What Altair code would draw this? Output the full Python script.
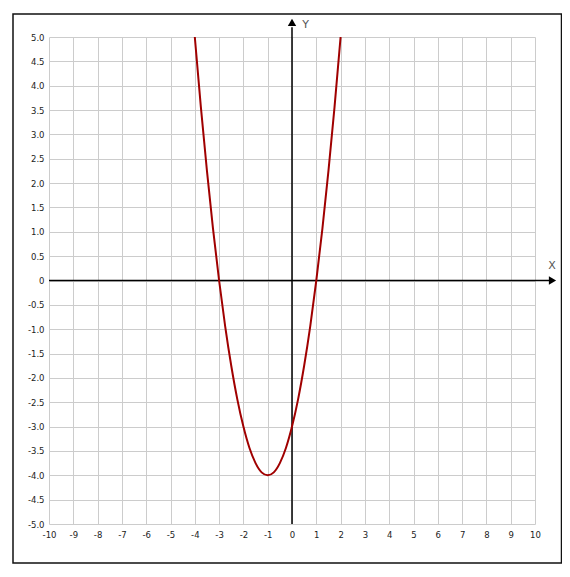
import altair as alt
import pandas as pd

# Curve values
curve_x = [-4, -3.75, -3.5, -3.25, -3, -2.75, -2.5, -2.25, -2, -1.75, -1.5, -1.25, -1,
           -0.75, -0.5, -0.25, 0, 0.25, 0.5, 0.75, 1, 1.25, 1.5, 1.75, 2]
curve_y = [5, 3.56, 2.25, 1.06, 0, -0.94, -1.75, -2.44, -3, -3.44, -3.75, -3.94, -4,
           -3.94, -3.75, -3.44, -3, -2.44, -1.75, -0.94, 0, 1.06, 2.25, 3.56, 5]

x_ticks = list(range(-10, 11))
y_ticks = [v / 2 for v in range(-10, 11)]

W, H = 486, 487
curve = pd.DataFrame({"x": curve_x, "y": curve_y})

xs = alt.Scale(domain=[-10, 10], nice=False, zero=False)
ys = alt.Scale(domain=[-5, 5], nice=False, zero=False)

xaxis = alt.Axis(values=x_ticks, grid=True, gridColor="#cccccc", gridWidth=1,
                 domain=False, ticks=False, labelPadding=6, title=None,
                 labelOverlap=False, labelFlush=False,
                 labelExpr="datum.value < 0 ? '-' + (-datum.value) : '' + datum.value",
                 labelFont="DejaVu Sans", labelFontSize=8.5, labelColor="#222")
yaxis = alt.Axis(values=y_ticks, grid=True, gridColor="#cccccc", gridWidth=1,
                 domain=False, ticks=False, labelPadding=5, title=None,
                 labelOverlap=False, labelFlush=False,
                 labelExpr="datum.value == 0 ? '0' : (datum.value < 0 ? '-' + format(-datum.value, '.1f') : format(datum.value, '.1f'))",
                 labelFont="DejaVu Sans", labelFontSize=8.5, labelColor="#222")


def X(field):
    return alt.X(field, scale=xs, axis=xaxis)


def Y(field):
    return alt.Y(field, scale=ys, axis=yaxis)


base = alt.Chart(curve)

grid = base.mark_point(opacity=0).encode(x=X("x:Q"), y=Y("y:Q"))

frame = alt.Chart(pd.DataFrame({"a": [0]})).mark_rect(
    fill="transparent", stroke="#111", strokeWidth=1.5, clip=False
).encode(x=alt.value(-36), x2=alt.value(512.5), y=alt.value(-23), y2=alt.value(526))

axes_df = pd.DataFrame({"x1": [-10, 0], "x2": [10.6, 0], "y1": [0, -5], "y2": [0, 5.2]})
axes_lines = alt.Chart(axes_df).mark_rule(color="#000", strokeWidth=1.5, clip=False).encode(
    x=X("x1:Q"), x2="x2:Q", y=Y("y1:Q"), y2="y2:Q",
)

arr_r = alt.Chart(pd.DataFrame({"x": [10.72], "y": [0]})).mark_point(
    shape="triangle-right", filled=True, color="#000", size=70, opacity=1, clip=False
).encode(x=X("x:Q"), y=Y("y:Q"))
arr_u = alt.Chart(pd.DataFrame({"x": [0], "y": [5.3]})).mark_point(
    shape="triangle-up", filled=True, color="#000", size=70, opacity=1, clip=False
).encode(x=X("x:Q"), y=Y("y:Q"))

labels = alt.Chart(pd.DataFrame({"x": [10.55, 0.42], "y": [0.3, 5.24], "t": ["X", "Y"]})).mark_text(
    font="DejaVu Sans", fontSize=11, color="#555", align="left", baseline="middle", clip=False
).encode(x=X("x:Q"), y=Y("y:Q"), text="t:N")

line = base.mark_line(color="#a00000", strokeWidth=2, interpolate="monotone", clip=True).encode(
    x=X("x:Q"), y=Y("y:Q")
)

chart = alt.layer(grid, frame, axes_lines, arr_r, arr_u, labels, line).properties(
    width=W, height=H,
    autosize=alt.AutoSizeParams(type="none"),
    padding={"left": 41, "top": 29, "right": 27, "bottom": 40},
    background="white",
).configure_view(stroke="transparent")

chart.save("out.html", embed_options={"renderer": "svg", "actions": False})
